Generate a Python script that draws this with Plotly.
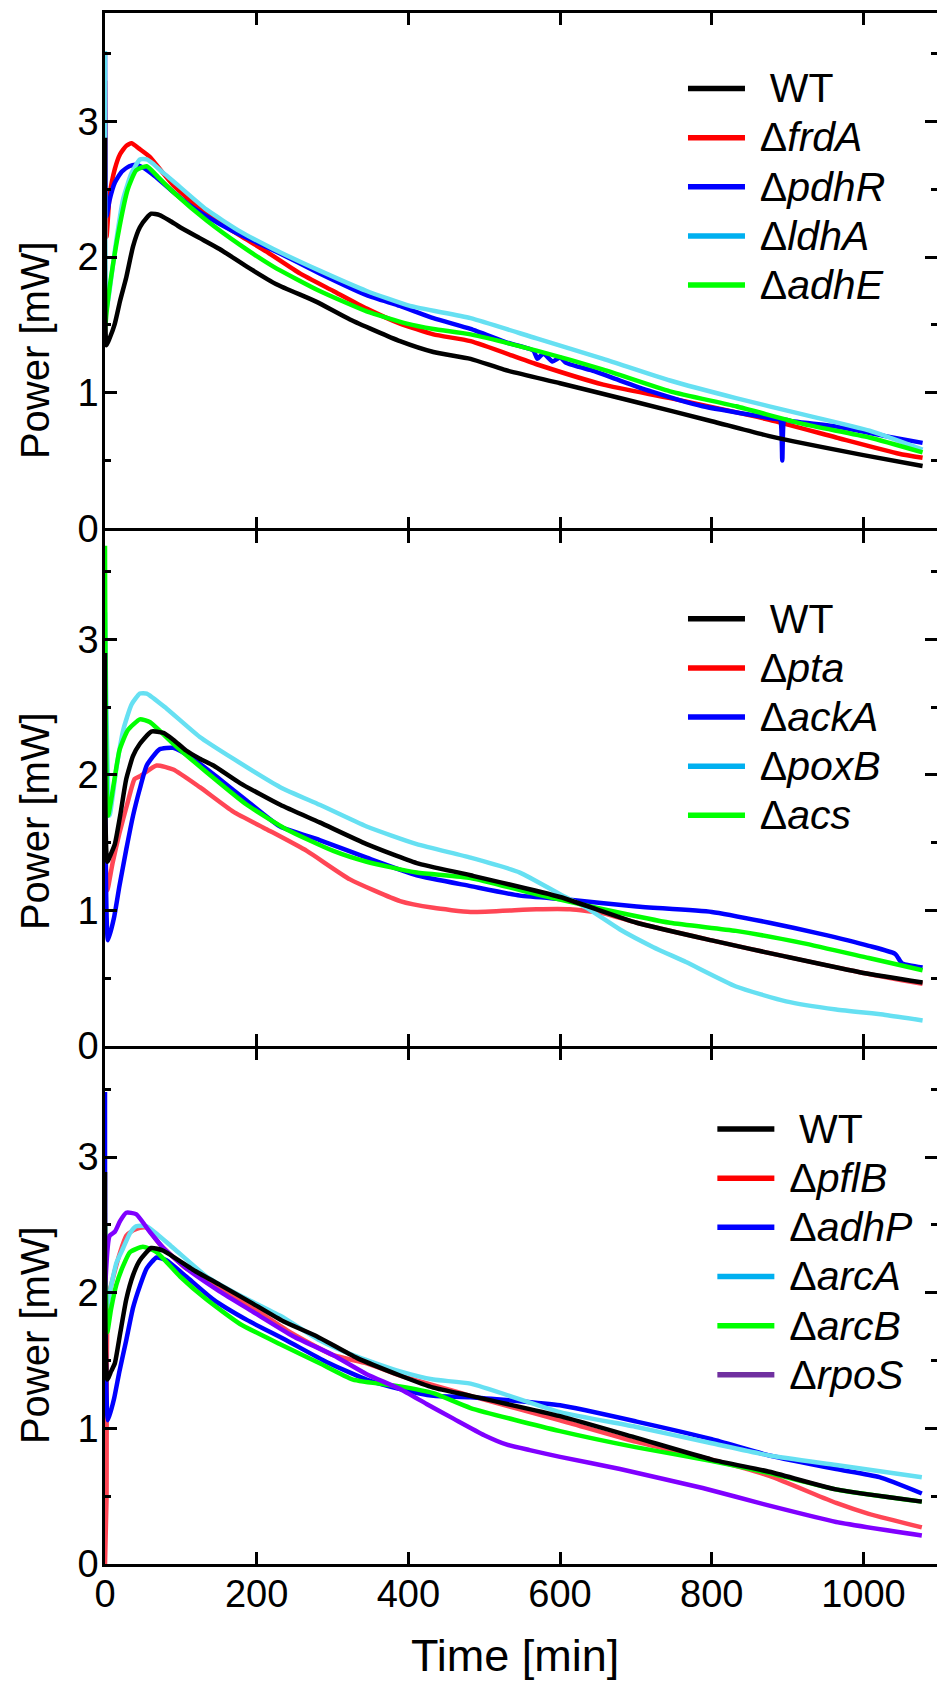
import plotly.graph_objects as go
from plotly.subplots import make_subplots

# ---- panel A : WT, frdA, pdhR, ldhA, adhE ----
a_wt_t = [0, 2, 6, 13, 20, 28, 37, 46, 55, 61, 72, 85, 99, 125, 151, 187, 226, 279, 323, 389, 433, 482, 526, 600, 701, 800, 876, 1000, 1078]
a_wt_p = [2.88, 1.35, 1.40, 1.51, 1.68, 1.85, 2.08, 2.22, 2.29, 2.32, 2.31, 2.27, 2.22, 2.14, 2.06, 1.93, 1.80, 1.67, 1.54, 1.38, 1.30, 1.25, 1.17, 1.07, 0.93, 0.79, 0.68, 0.54, 0.46]
a_frd_t = [0, 2, 6, 13, 20, 28, 35, 45, 59, 75, 90, 110, 134, 169, 213, 257, 301, 345, 389, 433, 482, 569, 657, 745, 876, 964, 1047, 1078]
a_frd_p = [3.3, 2.15, 2.45, 2.65, 2.76, 2.82, 2.84, 2.80, 2.74, 2.63, 2.53, 2.43, 2.32, 2.19, 2.04, 1.88, 1.75, 1.62, 1.51, 1.43, 1.38, 1.21, 1.06, 0.96, 0.80, 0.67, 0.55, 0.52]
a_pdh_t = [0, 2, 6, 13, 22, 32, 41, 50, 65, 90, 110, 134, 169, 226, 283, 345, 389, 433, 482, 530, 565, 570, 578, 590, 600, 608, 625, 645, 679, 720, 788, 880, 890, 893, 896, 906, 964, 1029, 1078]
a_pdh_p = [3.5, 2.30, 2.42, 2.55, 2.63, 2.67, 2.68, 2.66, 2.60, 2.48, 2.39, 2.30, 2.19, 2.04, 1.88, 1.72, 1.64, 1.55, 1.47, 1.37, 1.31, 1.25, 1.29, 1.23, 1.26, 1.22, 1.19, 1.16, 1.09, 1.01, 0.90, 0.81, 0.80, 0.50, 0.80, 0.79, 0.75, 0.68, 0.63]
a_ldh_t = [0, 2, 6, 13, 24, 35, 46, 55, 63, 75, 90, 134, 178, 222, 283, 345, 402, 482, 569, 657, 745, 832, 920, 1008, 1078]
a_ldh_p = [3.52, 1.62, 1.75, 2.05, 2.43, 2.62, 2.72, 2.72, 2.69, 2.63, 2.56, 2.35, 2.19, 2.06, 1.90, 1.75, 1.64, 1.55, 1.40, 1.25, 1.09, 0.96, 0.84, 0.72, 0.58]
a_adh_t = [0, 2, 8, 19, 30, 41, 55, 70, 90, 134, 178, 222, 283, 345, 398, 433, 482, 569, 657, 745, 832, 920, 1008, 1078]
a_adh_p = [1.45, 1.59, 1.85, 2.22, 2.50, 2.64, 2.67, 2.59, 2.48, 2.27, 2.09, 1.93, 1.75, 1.60, 1.51, 1.47, 1.43, 1.31, 1.17, 1.01, 0.90, 0.77, 0.67, 0.56]

# ---- panel B : WT, pta, ackA, poxB, acs ----
b_wt_t = [0, 3, 8, 13, 20, 28, 37, 46, 61, 77, 90, 107, 125, 143, 178, 231, 283, 345, 411, 482, 600, 701, 800, 898, 1000, 1078]
b_wt_p = [2.90, 1.36, 1.42, 1.49, 1.70, 1.97, 2.14, 2.23, 2.32, 2.31, 2.26, 2.18, 2.12, 2.07, 1.94, 1.78, 1.65, 1.49, 1.35, 1.26, 1.10, 0.91, 0.78, 0.66, 0.54, 0.47]
b_pta_t = [0, 3, 10, 19, 30, 39, 46, 68, 90, 125, 169, 213, 266, 323, 389, 433, 482, 569, 613, 657, 701, 800, 898, 1000, 1078]
b_pta_p = [1.6, 1.15, 1.35, 1.57, 1.80, 1.97, 1.99, 2.07, 2.04, 1.91, 1.73, 1.60, 1.44, 1.23, 1.07, 1.02, 0.99, 1.01, 1.01, 0.98, 0.91, 0.78, 0.66, 0.54, 0.46]
b_ack_t = [0, 4, 12, 19, 28, 37, 46, 55, 72, 90, 116, 151, 187, 231, 283, 345, 411, 482, 547, 613, 701, 800, 876, 942, 1007, 1042, 1051, 1078]
b_ack_p = [2.04, 0.78, 0.95, 1.18, 1.45, 1.70, 1.90, 2.07, 2.19, 2.20, 2.12, 1.97, 1.81, 1.62, 1.52, 1.39, 1.26, 1.18, 1.11, 1.08, 1.03, 0.99, 0.91, 0.83, 0.74, 0.68, 0.61, 0.58]
b_pox_t = [0, 6, 15, 24, 35, 46, 55, 81, 125, 169, 231, 283, 345, 411, 482, 547, 600, 635, 679, 723, 766, 832, 898, 964, 1029, 1078]
b_pox_p = [3.2, 1.70, 2.05, 2.33, 2.52, 2.60, 2.60, 2.49, 2.28, 2.12, 1.91, 1.78, 1.62, 1.49, 1.39, 1.28, 1.12, 1.02, 0.86, 0.73, 0.62, 0.44, 0.33, 0.27, 0.23, 0.19]
b_acs_t = [0, 4, 12, 19, 30, 46, 59, 90, 134, 187, 239, 301, 345, 411, 482, 569, 657, 745, 832, 920, 1007, 1078]
b_acs_p = [3.69, 1.70, 1.95, 2.18, 2.33, 2.41, 2.39, 2.23, 2.02, 1.78, 1.60, 1.44, 1.36, 1.28, 1.24, 1.12, 1.01, 0.91, 0.85, 0.76, 0.65, 0.56]

# ---- panel C : WT, pflB, adhP, arcA, arcB, rpoS ----
c_wt_t = [0, 3, 8, 13, 20, 28, 37, 46, 61, 77, 116, 151, 195, 235, 279, 332, 389, 433, 482, 600, 701, 800, 876, 964, 1077]
c_wt_p = [2.89, 1.36, 1.42, 1.48, 1.70, 1.95, 2.13, 2.24, 2.33, 2.31, 2.17, 2.06, 1.92, 1.79, 1.68, 1.52, 1.39, 1.30, 1.24, 1.09, 0.93, 0.77, 0.68, 0.55, 0.46]
c_pfl_t = [0, 2, 4, 11, 20, 28, 37, 46, 55, 72, 107, 151, 195, 244, 301, 345, 389, 482, 600, 701, 800, 876, 964, 1007, 1077]
c_pfl_p = [0.0, 0.48, 1.95, 2.12, 2.30, 2.42, 2.46, 2.48, 2.48, 2.36, 2.18, 2.04, 1.89, 1.71, 1.54, 1.48, 1.39, 1.24, 1.06, 0.90, 0.77, 0.65, 0.45, 0.37, 0.27]
c_adh_t = [0, 4, 12, 19, 28, 37, 46, 55, 68, 81, 107, 143, 187, 239, 292, 345, 389, 433, 482, 600, 701, 800, 876, 964, 1021, 1077]
c_adh_p = [3.48, 1.06, 1.22, 1.42, 1.65, 1.89, 2.05, 2.18, 2.26, 2.24, 2.12, 1.95, 1.80, 1.65, 1.49, 1.36, 1.29, 1.24, 1.23, 1.17, 1.05, 0.92, 0.80, 0.70, 0.64, 0.52]
c_arca_t = [0, 2, 8, 15, 24, 33, 41, 55, 90, 134, 178, 231, 283, 327, 389, 433, 482, 600, 701, 800, 876, 964, 1077]
c_arca_p = [2.0, 1.89, 2.05, 2.22, 2.33, 2.44, 2.49, 2.49, 2.33, 2.12, 1.98, 1.83, 1.65, 1.54, 1.42, 1.36, 1.33, 1.12, 1.01, 0.89, 0.80, 0.73, 0.64]
c_arcb_t = [0, 3, 8, 15, 24, 33, 50, 68, 99, 134, 178, 231, 283, 327, 389, 433, 482, 600, 701, 800, 876, 964, 1077]
c_arcb_p = [2.5, 1.71, 1.88, 2.06, 2.20, 2.30, 2.34, 2.30, 2.12, 1.95, 1.77, 1.62, 1.48, 1.36, 1.31, 1.26, 1.15, 0.98, 0.86, 0.76, 0.67, 0.55, 0.46]
c_rpo_t = [0, 6, 13, 20, 28, 41, 59, 77, 107, 151, 195, 248, 301, 345, 389, 424, 460, 500, 530, 560, 600, 679, 788, 876, 964, 1077]
c_rpo_p = [2.01, 2.42, 2.45, 2.53, 2.59, 2.58, 2.45, 2.33, 2.18, 2.01, 1.86, 1.68, 1.54, 1.40, 1.29, 1.18, 1.07, 0.95, 0.88, 0.84, 0.79, 0.70, 0.56, 0.43, 0.31, 0.21]


def lab(gene):
    return '\u00a0<span style="font-size:41px">Δ<i>' + gene + '</i></span>'


WT_LABEL = '\u00a0\u00a0<span style="font-size:41px">WT</span>'

# (name, times, values, line colour, legend colour)
panels = [
    [(WT_LABEL, a_wt_t, a_wt_p, "#000000", "#000000"),
     (lab("frdA"), a_frd_t, a_frd_p, "#ff0000", "#ff0000"),
     (lab("pdhR"), a_pdh_t, a_pdh_p, "#0000ff", "#0000ff"),
     (lab("ldhA"), a_ldh_t, a_ldh_p, "#66e0f2", "#00b0f0"),
     (lab("adhE"), a_adh_t, a_adh_p, "#00ff00", "#00ff00")],
    [(WT_LABEL, b_wt_t, b_wt_p, "#000000", "#000000"),
     (lab("pta"), b_pta_t, b_pta_p, "#ff4655", "#ff0000"),
     (lab("ackA"), b_ack_t, b_ack_p, "#0000ff", "#0000ff"),
     (lab("poxB"), b_pox_t, b_pox_p, "#66e0f2", "#00b0f0"),
     (lab("acs"), b_acs_t, b_acs_p, "#00ff00", "#00ff00")],
    [(WT_LABEL, c_wt_t, c_wt_p, "#000000", "#000000"),
     (lab("pflB"), c_pfl_t, c_pfl_p, "#ff4655", "#ff0000"),
     (lab("adhP"), c_adh_t, c_adh_p, "#0000ff", "#0000ff"),
     (lab("arcA"), c_arca_t, c_arca_p, "#66e0f2", "#00b0f0"),
     (lab("arcB"), c_arcb_t, c_arcb_p, "#00ff00", "#00ff00"),
     (lab("rpoS"), c_rpo_t, c_rpo_p, "#8000ff", "#7030a0")],
]

FONT = "Liberation Sans"
LW = 2.5

# small gap so the bottom line of one panel and the top line of the next coincide
fig = make_subplots(rows=3, cols=1, shared_xaxes=True, vertical_spacing=LW / 1551)

legend_names = ["legend", "legend2", "legend3"]
for i, series in enumerate(panels):
    row = i + 1
    # draw WT last so it sits on top
    for name, t, p, col, _ in series[1:] + series[:1]:
        fig.add_trace(go.Scatter(x=t, y=p, mode="lines", showlegend=False,
                                 line=dict(color=col, width=4.5, shape="spline", smoothing=0.5)),
                      row=row, col=1)
    for name, t, p, col, lcol in series:
        fig.add_trace(go.Scatter(x=[None], y=[None], mode="lines", name=name,
                                 legend=legend_names[i],
                                 line=dict(color=lcol, width=5.5)), row=row, col=1)

axis_common = dict(showline=True, linecolor="black", linewidth=LW, mirror="ticks",
                   ticks="inside", tickcolor="black", tickwidth=2.5, ticklen=12,
                   showgrid=False, zeroline=False,
                   tickfont=dict(family=FONT, size=38, color="black"))

for r in range(1, 4):
    fig.update_xaxes(range=[0, 1097], dtick=200, tick0=0, row=r, col=1, **axis_common)
    fig.update_yaxes(range=[0, 3.8], dtick=1, tick0=0, row=r, col=1,
                     minor=dict(ticks="inside", dtick=0.5, ticklen=6, tickwidth=2.5,
                                tickcolor="black", showgrid=False),
                     ticklabelstandoff=-4, **axis_common)
fig.update_xaxes(ticklabelstandoff=-5, row=3, col=1)

leg_common = dict(font=dict(family=FONT, size=35.5, color="black"), bgcolor="rgba(0,0,0,0)",
                  borderwidth=0, itemwidth=57, xanchor="left", yanchor="top",
                  itemclick=False, tracegroupgap=0)

fig.update_layout(
    width=937, height=1686,
    margin=dict(l=105, r=0, t=13, b=122, autoexpand=False),
    paper_bgcolor="white", plot_bgcolor="white",
    font=dict(family=FONT, color="black"),
    legend=dict(x=0.6947, y=0.9704, **leg_common),
    legend2=dict(x=0.6947, y=0.6285, **leg_common),
    legend3=dict(x=0.73, y=0.2995, **leg_common),
)

title_font = dict(family=FONT, size=40, color="black")
for yc in [0.7827, 0.4790, 0.1476]:
    fig.add_annotation(text="Power [mW]", x=-0.0841, y=yc, xref="paper", yref="paper",
                       textangle=-90, showarrow=False, xanchor="center", yanchor="middle",
                       font=title_font)
fig.add_annotation(text="Time [min]", x=0.4928, y=-0.0587, xref="paper", yref="paper",
                   showarrow=False, xanchor="center", yanchor="middle",
                   font=dict(family=FONT, size=45, color="black"))

# drop the browser's default 8px page margin so the figure sits at the window origin
fig.write_html("out.html", config={"displayModeBar": False},
               post_script="document.body.style.margin='0px';document.body.style.overflow='hidden';")
